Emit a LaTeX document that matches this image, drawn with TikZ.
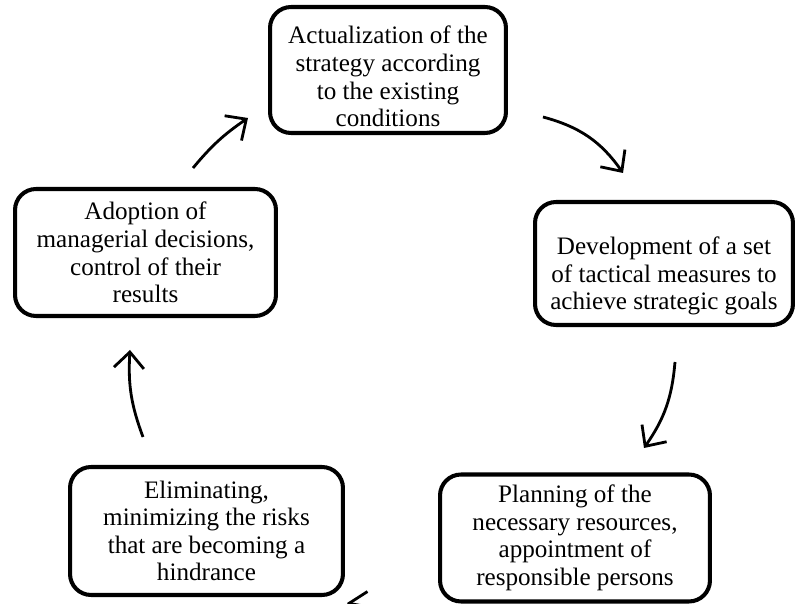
\documentclass[tikz,border=0pt]{standalone}
\usepackage{fontspec}
\setmainfont{Liberation Serif}
\usetikzlibrary{arrows.meta}
\tikzset{
  stage/.style={draw,line width=2.3pt,rounded corners=0.42cm,align=center,inner sep=0pt,
    font=\fontsize{14.3}{15.7}\selectfont},
  flow/.style={line width=1.6pt,-{Straight Barb[length=3.2mm,width=6mm]}}
}

\begin{document}
\begin{tikzpicture}[x=0.02cm,y=-0.02cm]
\useasboundingbox (0,0) rectangle (796,604);
\clip (0,0) rectangle (796,604);
\node[stage,minimum width=4.72cm,minimum height=2.52cm] (actual) at (388,70)
  {\rule{0pt}{17.5pt}Actualization of the\\strategy according\\to the existing\\conditions};
\node[stage,minimum width=5.16cm,minimum height=2.46cm] (tactic) at (664,263.5)
  {\rule{0pt}{24.6pt}Development of a set\\of tactical measures to\\achieve strategic goals};
\node[stage,minimum width=5.4cm,minimum height=2.54cm] (plan) at (575,538)
  {Planning of the\\necessary resources,\\appointment of\\responsible persons};
\node[stage,minimum width=5.46cm,minimum height=2.56cm] (risk) at (206.5,531)
  {Eliminating,\\minimizing the risks\\that are becoming a\\hindrance};
\node[stage,minimum width=5.22cm,minimum height=2.54cm] (adopt) at (145.5,252.5)
  {Adoption of\\managerial decisions,\\control of their\\results};

\coordinate (actual-out) at (543,117);
\coordinate (tactic-in) at (623,173);
\coordinate (tactic-out) at (675,362);
\coordinate (plan-in) at (644,448);
\coordinate (plan-out) at (440,612);
\coordinate (risk-in) at (347,603);
\coordinate (risk-out) at (143,437);
\coordinate (adopt-in) at (130,350);
\coordinate (adopt-out) at (193,168);
\coordinate (actual-in) at (248,118);

\draw[flow] (actual-out) to[bend left=20] (tactic-in);
\draw[flow] (tactic-out) to[bend left=15] (plan-in);
\draw[flow] (plan-out) to[bend left=5] (risk-in);
\draw[flow] (risk-out) to[bend left=12] (adopt-in);
\draw[flow] (adopt-out) to[bend left=8] (actual-in);
\end{tikzpicture}
\end{document}
